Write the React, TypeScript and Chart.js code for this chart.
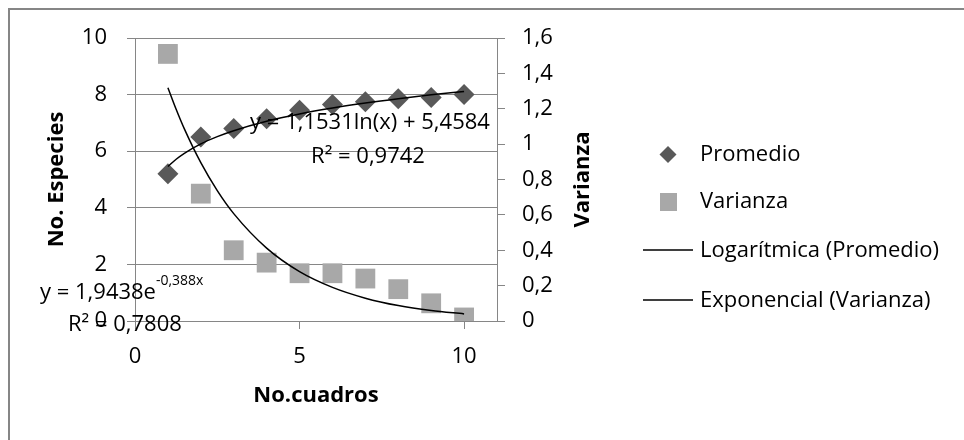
import React, { useEffect, useRef } from "react";
import { Chart, registerables } from "chart.js";

Chart.register(...registerables);

// ---- data ----
const X_VALUES = [1, 2, 3, 4, 5, 6, 7, 8, 9, 10];
const PROMEDIO = [5.2, 6.5, 6.8, 7.15, 7.45, 7.65, 7.75, 7.85, 7.9, 8.0];
const VARIANZA = [1.51, 0.72, 0.4, 0.33, 0.27, 0.27, 0.24, 0.18, 0.1, 0.02];
const TREND_X = [1, 1.25, 1.5, 2, 2.5, 3, 4, 5, 6, 7, 8, 9, 10];
const LOG_TREND = [5.458, 5.716, 5.926, 6.258, 6.515, 6.725, 7.057, 7.314, 7.524, 7.702, 7.856, 7.992, 8.113];
const EXP_TREND = [1.319, 1.197, 1.086, 0.895, 0.737, 0.607, 0.412, 0.279, 0.19, 0.129, 0.087, 0.059, 0.04];
const X_TICKS = [0, 5, 10];

const SERIES_NAMES = ["Promedio", "Varianza", "Logarítmica (Promedio)", "Exponencial (Varianza)"];
const X_TITLE = "No.cuadros";
const Y_TITLE = "No. Especies";
const Y1_TITLE = "Varianza";
const LOG_EQ = "y = 1,1531ln(x) + 5,4584";
const LOG_R2 = "R² = 0,9742";
const EXP_EQ = "y = 1,9438e";
const EXP_EQ_SUP = "-0,388x";
const EXP_R2 = "R² = 0,7808";

const FONT = '"Open Sans", "DejaVu Sans", sans-serif';
const GRID = "#868686";
const DIAMOND = "#595959";
const SQUARE = "#A8A8A8";

const overlay = {
  id: "overlay",
  afterDraw(chart: any) {
    const ctx = chart.ctx as CanvasRenderingContext2D;
    const ca = chart.chartArea;
    ctx.save();
    // outer frame (top + left)
    ctx.fillStyle = GRID;
    ctx.fillRect(8, 8, 956, 2);
    ctx.fillRect(8, 8, 2, 432);

    // axis titles
    ctx.fillStyle = "#000";
    ctx.font = `bold 22px ${FONT}`;
    ctx.textAlign = "center";
    ctx.textBaseline = "middle";
    ctx.fillText(X_TITLE, (ca.left + ca.right) / 2, 396);
    const midY = (ca.top + ca.bottom) / 2;
    ctx.save();
    ctx.translate(57, midY);
    ctx.rotate(-Math.PI / 2);
    ctx.fillText(Y_TITLE, 0, 0);
    ctx.restore();
    ctx.save();
    ctx.translate(583, midY);
    ctx.rotate(-Math.PI / 2);
    ctx.fillText(Y1_TITLE, 0, 0);
    ctx.restore();

    // trendline labels
    ctx.font = `22px ${FONT}`;
    ctx.textAlign = "center";
    ctx.fillText(LOG_EQ, 370, 123);
    ctx.fillText(LOG_R2, 368, 157);
    ctx.textAlign = "left";
    ctx.fillText(EXP_EQ, 40, 293);
    const w = ctx.measureText(EXP_EQ).width;
    ctx.font = `14px ${FONT}`;
    ctx.fillText(EXP_EQ_SUP, 40 + w, 281);
    ctx.font = `22px ${FONT}`;
    ctx.fillText(EXP_R2, 68, 325);

    // legend
    ctx.fillStyle = DIAMOND;
    ctx.beginPath();
    ctx.moveTo(668, 146);
    ctx.lineTo(676.5, 154.5);
    ctx.lineTo(668, 163);
    ctx.lineTo(659.5, 154.5);
    ctx.closePath();
    ctx.fill();
    ctx.fillStyle = SQUARE;
    ctx.fillRect(660, 193, 17, 18);
    ctx.strokeStyle = "#000";
    ctx.lineWidth = 1.5;
    ctx.beginPath();
    ctx.moveTo(643, 250);
    ctx.lineTo(693, 250);
    ctx.moveTo(643, 300);
    ctx.lineTo(693, 300);
    ctx.stroke();
    ctx.fillStyle = "#000";
    ctx.textAlign = "left";
    ctx.fillText(SERIES_NAMES[0], 700, 155);
    ctx.fillText(SERIES_NAMES[1], 700, 202);
    ctx.fillText(SERIES_NAMES[2], 700, 251);
    ctx.fillText(SERIES_NAMES[3], 700, 301);
    ctx.restore();
  },
};

export default function App() {
  const ref = useRef<HTMLCanvasElement | null>(null);

  useEffect(() => {
    if (!ref.current) return;
    Chart.defaults.font.family = FONT;
    Chart.defaults.font.size = 22;
    Chart.defaults.color = "#000";

    const chart = new Chart(ref.current, {
      type: "scatter",
      data: {
        datasets: [
          {
            label: SERIES_NAMES[2],
            data: TREND_X.map((x, i) => ({ x, y: LOG_TREND[i] })),
            yAxisID: "y",
            showLine: true,
            pointRadius: 0,
            borderColor: "#000",
            borderWidth: 1.5,
            cubicInterpolationMode: "monotone",
            order: 0,
          } as any,
          {
            label: SERIES_NAMES[3],
            data: TREND_X.map((x, i) => ({ x, y: EXP_TREND[i] })),
            yAxisID: "y1",
            showLine: true,
            pointRadius: 0,
            borderColor: "#000",
            borderWidth: 1.5,
            cubicInterpolationMode: "monotone",
            order: 1,
          } as any,
          {
            label: SERIES_NAMES[0],
            data: X_VALUES.map((x, i) => ({ x, y: PROMEDIO[i] })),
            yAxisID: "y",
            pointStyle: "rectRot",
            pointRadius: 10.5,
            backgroundColor: DIAMOND,
            borderColor: DIAMOND,
            borderWidth: 0,
            order: 2,
          },
          {
            label: SERIES_NAMES[1],
            data: X_VALUES.map((x, i) => ({ x, y: VARIANZA[i] })),
            yAxisID: "y1",
            pointStyle: "rect",
            pointRadius: 14,
            backgroundColor: SQUARE,
            borderColor: SQUARE,
            borderWidth: 0,
            order: 3,
          },
        ],
      },
      options: {
        responsive: false,
        animation: false,
        events: [],
        layout: { padding: { top: 38, left: 0, right: 0, bottom: 0 } },
        plugins: { legend: { display: false }, tooltip: { enabled: false }, title: { display: false } },
        scales: {
          x: {
            type: "linear",
            min: 0,
            max: 11,
            afterBuildTicks: (s: any) => {
              s.ticks = X_TICKS.map((v) => ({ value: v }));
            },
            afterFit: (s: any) => {
              s.height = 119;
            },
            ticks: { padding: 15, color: "#000", font: { size: 22 } },
            grid: { drawOnChartArea: false, drawTicks: true, tickLength: 8, color: GRID, lineWidth: 1 },
            border: { display: true, color: GRID, width: 1 },
          },
          y: {
            position: "left",
            min: 0,
            max: 10,
            ticks: { stepSize: 2, padding: 20, color: "#000", font: { size: 22 } },
            afterFit: (s: any) => {
              s.width = 135;
            },
            grid: { drawOnChartArea: true, drawTicks: true, tickLength: 8, color: GRID, lineWidth: 1 },
            border: { display: true, color: GRID, width: 1 },
          },
          y1: {
            position: "right",
            min: 0,
            max: 1.6,
            ticks: {
              stepSize: 0.2,
              padding: 17,
              color: "#000",
              font: { size: 22 },
              callback: (v: any) => String(Math.round(Number(v) * 10) / 10).replace(".", ","),
            },
            afterFit: (s: any) => {
              s.width = 467;
            },
            grid: { drawOnChartArea: false, drawTicks: true, tickLength: 8, color: GRID, lineWidth: 1 },
            border: { display: true, color: GRID, width: 1 },
          },
        },
      } as any,
      plugins: [overlay],
    });
    return () => chart.destroy();
  }, []);

  return (
    <div style={{ position: "absolute", left: 0, top: 0, width: 964, height: 440, background: "#fff" }}>
      <canvas ref={ref} width={964} height={440} style={{ display: "block", width: 964, height: 440 }} />
    </div>
  );
}
